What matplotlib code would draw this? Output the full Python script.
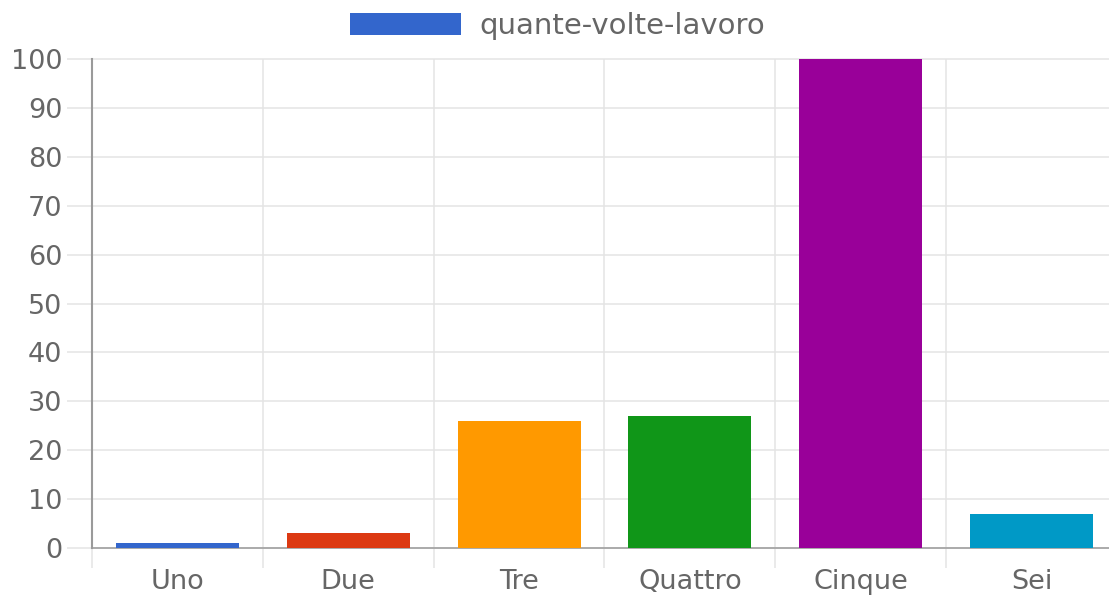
import numpy as np
import matplotlib.pyplot as plt

# Chart data
categories = ['Uno', 'Due', 'Tre', 'Quattro', 'Cinque', 'Sei']
values = [1, 3, 26, 27, 100, 7]
bar_colors = ['#3366cc', '#dc3912', '#ff9900', '#109618', '#990099', '#0099c6']
series_label = 'quante-volte-lavoro'
y_ticks = np.arange(0, 101, 10)

text_color = '#666666'
grid_color = '#e4e4e4'
axis_color = '#9a9a9a'
font_size = 19.5
legend_size = 21

plt.rcParams['font.family'] = ['DejaVu Sans']

fig = plt.figure(figsize=(11.09, 5.99), dpi=100)
W, H = 1109, 599
ax = fig.add_axes([92 / W, 51 / H, 1025 / W, 489 / H])

x = np.arange(len(categories))
ax.bar(x, values, width=0.72, color=bar_colors, label=series_label, zorder=3)

ax.set_xlim(-0.5, len(categories) - 0.5)
ax.set_ylim(0, 100)

# category labels at the centres, grid lines on the boundaries
ax.set_xticks(x)
ax.set_xticklabels(categories)
ax.set_xticks(np.arange(-0.5, len(categories)), minor=True)
ax.tick_params(axis='x', which='major', length=0, pad=15,
               labelsize=font_size, labelcolor=text_color)
ax.tick_params(axis='x', which='minor', length=14.4, width=1.1, color=grid_color)
ax.xaxis.grid(True, which='minor', color=grid_color, linewidth=1.1, zorder=0)

ax.set_yticks(y_ticks)
ax.tick_params(axis='y', length=18, width=1.1, color=grid_color, pad=3.5,
               labelsize=font_size, labelcolor=text_color)
ax.yaxis.grid(True, color=grid_color, linewidth=1.1, zorder=0)
ax.set_axisbelow(True)
for line in ax.get_ygridlines():
    line.set_clip_on(False)

# the zero line and the left axis are darker than the grid
ax.get_yticklines()[0].set_color(axis_color)
ax.xaxis.get_minorticklines()[0].set_color(axis_color)
ax.xaxis.get_minorticklines()[0].set_linewidth(1.5)

for side in ['top', 'right']:
    ax.spines[side].set_visible(False)
ax.spines['left'].set_color(axis_color)
ax.spines['left'].set_linewidth(1.5)
ax.spines['bottom'].set_color(axis_color)
ax.spines['bottom'].set_linewidth(1.1)

leg = ax.legend(loc='center', bbox_to_anchor=(0.503, 0.957),
                bbox_transform=fig.transFigure, frameon=False,
                fontsize=legend_size, handlelength=3.8, handleheight=0.79,
                handletextpad=0.62, labelcolor=text_color)

fig.savefig('out.png', dpi=100)
